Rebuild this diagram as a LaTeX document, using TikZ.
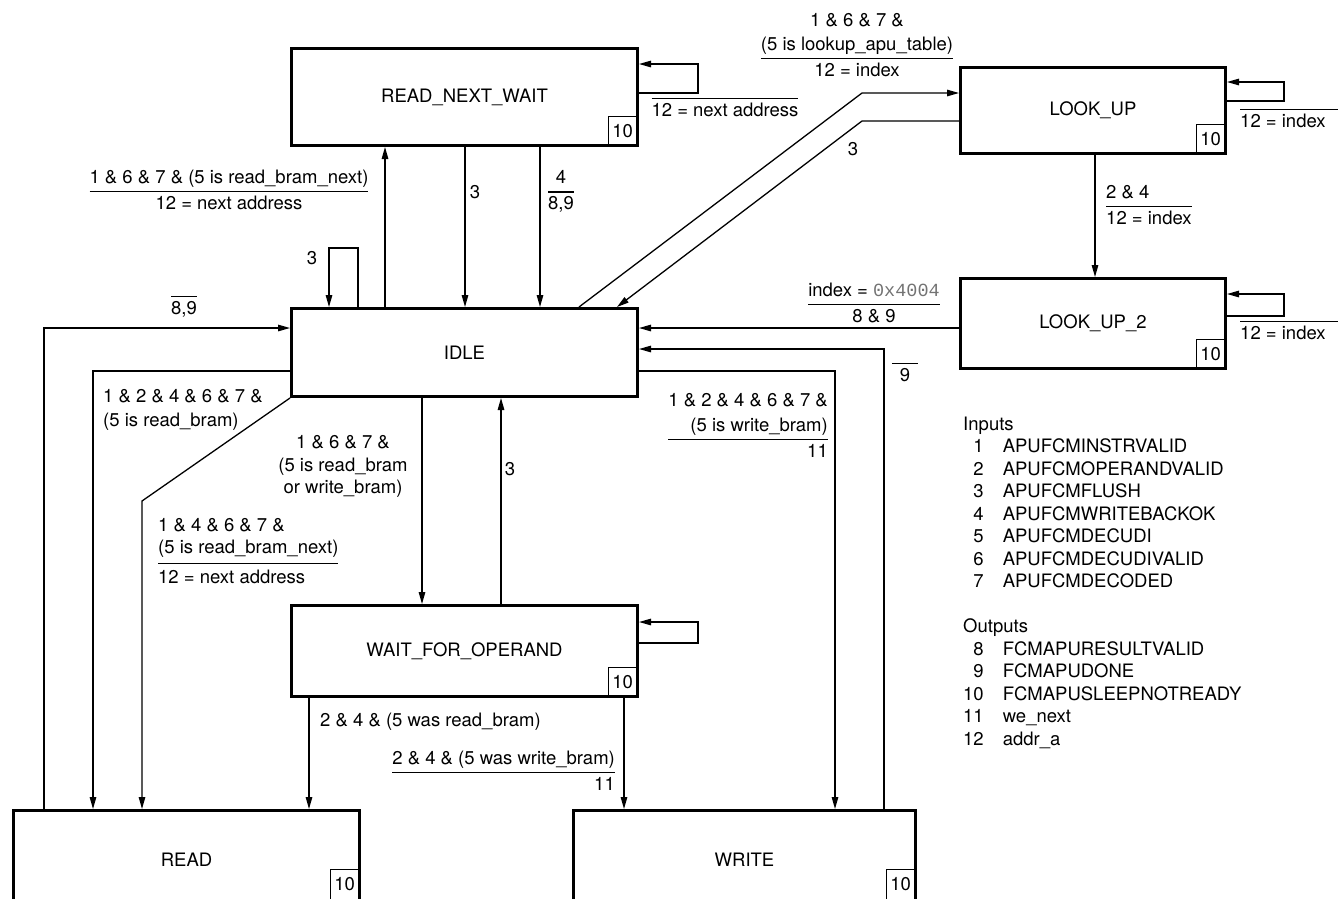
\documentclass[tikz,border=0pt]{standalone}
\usepackage{fontspec}
\setmainfont{TeX Gyre Heros}
\newfontfamily\monofont{Liberation Mono}
\usetikzlibrary{arrows.meta}
\setlength{\arrayrulewidth}{1.2pt}
\renewcommand{\arraystretch}{1.1}
\newcommand{\fr}[3][c]{\begin{tabular}{@{}#1@{}}#2\\\hline #3\end{tabular}}
\newcommand{\ovl}[2][0pt]{\begin{tabular}{@{\hspace{#1}}c@{\hspace{#1}}}\hline #2\end{tabular}}
\newcommand{\ovll}[1]{\begin{tabular}{@{}l@{\hspace{24pt}}}\hline #1\end{tabular}}
\begin{document}
\begin{tikzpicture}[x=1pt,y=-1pt,
  every node/.style={font=\fontsize{18.5}{22.5}\selectfont},
  state/.style={draw,line width=2.6pt,inner sep=0pt},
  tenbox/.style={draw,line width=1.2pt,minimum width=29pt,minimum height=29pt,inner sep=0pt,anchor=south east},
  arr/.style={line width=1.3pt,-{Triangle[length=12pt,width=6.5pt]}},
  lbl/.style={inner sep=0pt}]
\useasboundingbox (0,0) rectangle (1338,898);
\clip (0,0) rectangle (1338,898);

% states
\node[state,minimum width=346.4pt,minimum height=97.4pt] (rnw) at (464.5,97) {READ\_NEXT\_WAIT};
\node[state,minimum width=346.4pt,minimum height=88.4pt] (idle) at (464.5,352.5) {IDLE};
\node[state,minimum width=265.4pt,minimum height=86.4pt] (lookup) at (1093,110.5) {LOOK\_UP};
\node[state,minimum width=265.4pt,minimum height=90.4pt] (lookup2) at (1093,323.5) {LOOK\_UP\_2};
\node[state,minimum width=346.4pt,minimum height=91.4pt] (wfo) at (464.5,651) {WAIT\_FOR\_OPERAND};
\node[state,minimum width=346.4pt,minimum height=98.4pt] (read) at (186.5,859.5) {READ};
\node[state,minimum width=342.4pt,minimum height=98.4pt] (write) at (744.5,859.5) {WRITE};

% output-10 boxes
\node[tenbox] (t1) at ([xshift=-1.3pt,yshift=1.3pt]rnw.south east) {10};
\node[tenbox] (t2) at ([xshift=-1.3pt,yshift=1.3pt]lookup.south east) {10};
\node[tenbox] (t3) at ([xshift=-1.3pt,yshift=1.3pt]lookup2.south east) {10};
\node[tenbox] (t4) at ([xshift=-1.3pt,yshift=1.3pt]wfo.south east) {10};
\node[tenbox,anchor=north east,minimum height=40pt,text depth=11pt] (t5) at ([xshift=-1.3pt,yshift=-60pt]read.north east) {10};
\node[tenbox,anchor=north east,minimum height=40pt,text depth=11pt] (t6) at ([xshift=-1.3pt,yshift=-60pt]write.north east) {10};

% bend points
\coordinate (k1) at (862,93);
\coordinate (k2) at (862,121);
\coordinate (k3) at (142,501);

% connectors
\draw[arr] ([xshift=95pt]idle.north west) -- ([xshift=95pt]rnw.south west);
\draw[arr] ([xshift=68pt]idle.north west) -- ++(0,-59) -| ([xshift=39pt]idle.north west);
\draw[arr] ([xshift=175pt]rnw.south west) -- ([xshift=175pt]idle.north west);
\draw[arr] ([xshift=250pt]rnw.south west) -- ([xshift=250pt]idle.north west);
\draw[arr] ([yshift=-46pt]rnw.north east) -- ++(59,0) |- ([yshift=-17pt]rnw.north east);
\draw[arr] ([xshift=289pt]idle.north west) -- (k1) -- ([yshift=-27pt]lookup.north west);
\draw[arr] ([yshift=-55pt]lookup.north west) -- (k2) -- ([xshift=327pt]idle.north west);
\draw[arr] ([xshift=136pt]lookup.south west) -- ([xshift=136pt]lookup2.north west);
\draw[arr] ([yshift=-35pt]lookup.north east) -- ++(57,0) |- ([yshift=-16pt]lookup.north east);
\draw[arr] ([yshift=-39pt]lookup2.north east) -- ++(57,0) |- ([yshift=-17pt]lookup2.north east);
\draw[arr] ([yshift=-51pt]lookup2.north west) -- ([yshift=-21pt]idle.north east);
\draw[arr] ([xshift=312pt]write.north west) |- ([yshift=-42pt]idle.north east);
\draw[arr] ([yshift=-64pt]idle.north east) -| ([xshift=263pt]write.north west);
\draw[arr] ([xshift=32pt]read.north west) |- ([yshift=-21pt]idle.north west);
\draw[arr] ([yshift=-64pt]idle.north west) -| ([xshift=81pt]read.north west);
\draw[arr] (idle.south west) -- (k3) -- ([xshift=130pt]read.north west);
\draw[arr] ([xshift=132pt]idle.south west) -- ([xshift=132pt]wfo.north west);
\draw[arr] ([xshift=211pt]wfo.north west) -- ([xshift=211pt]idle.south west);
\draw[arr] ([yshift=-39pt]wfo.north east) -- ++(59,0) |- ([yshift=-18pt]wfo.north east);
\draw[arr] ([xshift=19pt]wfo.south west) -- ([xshift=297pt]read.north west);
\draw[arr] ([xshift=334pt]wfo.south west) -- ([xshift=52pt]write.north west);

% labels
\node[lbl] (l1) at (229,191.5) {\fr{1 \& 6 \& 7 \& (5 is read\_bram\_next)}{12 = next address}};
\node[lbl] (l2) at (312,258) {3};
\node[lbl] (l3) at (475,192) {3};
\node[lbl] (l4) at (561,192) {\fr{4}{8,9}};
\node[lbl] (l5) at (725,111) {\ovl{12 = next address}};
\node[lbl] (l6) at (857,46.5) {\fr{1 \& 6 \& 7 \&\\(5 is lookup\_apu\_table)}{12 = index}};
\node[lbl] (l7) at (853,149) {3};
\node[lbl,anchor=west] (l8) at (1106,206.5) {\fr[l]{2 \& 4}{12 = index}};
\node[lbl,anchor=west] (l9) at (1240,122) {\ovll{12 = index}};
\node[lbl,anchor=west] (l10) at (1240,334) {\ovll{12 = index}};
\node[lbl] (l11) at (874,304.5) {\fr{index = {\monofont\color{black!55}0x4004}}{8 \& 9}};
\node[lbl] (l12) at (905,376) {\ovl[8pt]{9}};
\node[lbl,anchor=east] (l13) at (828,427) {\fr[r]{1 \& 2 \& 4 \& 6 \& 7 \&\\(5 is write\_bram)}{11}};
\node[lbl] (l14) at (184,309) {\ovl{8,9}};
\node[lbl,anchor=west] (l15) at (103,409.5) {\begin{tabular}{@{}l@{}}1 \& 2 \& 4 \& 6 \& 7 \&\\(5 is read\_bram)\end{tabular}};
\node[lbl,anchor=west] (l16) at (158,553) {\renewcommand\arraystretch{1}\fr[l]{1 \& 4 \& 6 \& 7 \&\\(5 is read\_bram\_next)\rule[-9pt]{0pt}{9pt}}{\rule{0pt}{20pt}12 = next address}};
\node[lbl] (l17) at (343,466.5) {\renewcommand\arraystretch{1}\begin{tabular}{@{}c@{}}1 \& 6 \& 7 \&\\(5 is read\_bram\\or write\_bram)\end{tabular}};
\node[lbl] (l18) at (510,469) {3};
\node[lbl,anchor=west] (l20) at (320,722) {2 \& 4 \& (5 was read\_bram)};
\node[lbl,anchor=east] (l21) at (615,772.5) {\fr[r]{2 \& 4 \& (5 was write\_bram)}{11}};

% legend
\node[lbl,anchor=north west] (legend) at (963,414.5) {\renewcommand\arraystretch{1}\begin{tabular}{@{}r@{\hspace{19pt}}l@{}}
\multicolumn{2}{@{}l@{}}{Inputs}\\
1 & APUFCMINSTRVALID\\
2 & APUFCMOPERANDVALID\\
3 & APUFCMFLUSH\\
4 & APUFCMWRITEBACKOK\\
5 & APUFCMDECUDI\\
6 & APUFCMDECUDIVALID\\
7 & APUFCMDECODED\\
\\
\multicolumn{2}{@{}l@{}}{Outputs}\\
8 & FCMAPURESULTVALID\\
9 & FCMAPUDONE\\
10 & FCMAPUSLEEPNOTREADY\\
11 & we\_next\\
12 & addr\_a
\end{tabular}};
\end{tikzpicture}
\end{document}
